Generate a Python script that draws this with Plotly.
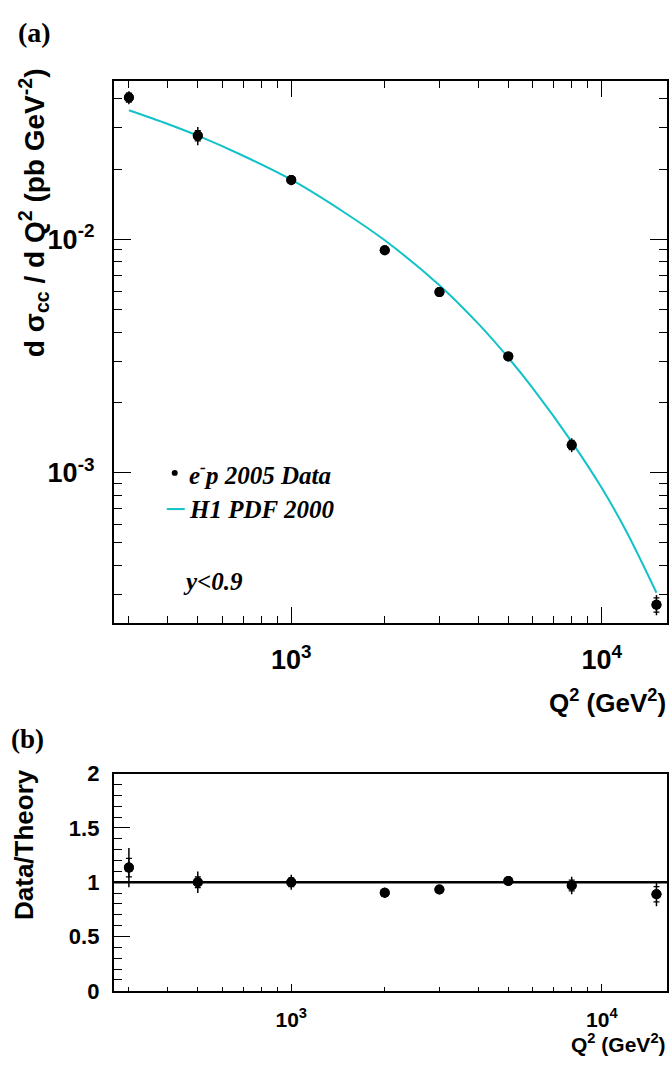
import plotly.graph_objects as go

# ---------------- data ----------------
q2 = [300, 500, 1000, 2000, 3000, 5000, 8000, 15000]
xsec = [0.0405, 0.0278, 0.01795, 0.00897, 0.00594, 0.00315, 0.001315, 0.000272]
xsec_err_tot = [0.0026, 0.0025, 0.0009, 0.0003, 0.0002, 0.00011, 0.00009, 0.000027]
xsec_err_stat = [0.0018, 0.0014, 0.0006, 0.0002, 0.00015, 0.00008, 0.00006, 0.000019]

theory_q2 = [300, 400, 500, 700, 1000, 1500, 2000, 3000, 4000, 5000, 6000, 8000, 10000, 12000, 15000]
theory_xsec = [0.0357, 0.0312, 0.0278, 0.0228, 0.0180, 0.0129, 0.0099, 0.00636, 0.00435,
               0.00311, 0.00230, 0.001356, 0.00086, 0.00056, 0.000306]

ratio = [1.135, 1.00, 1.00, 0.904, 0.934, 1.012, 0.97, 0.889]
ratio_err_tot = [0.18, 0.10, 0.07, 0.045, 0.04, 0.045, 0.08, 0.11]
ratio_err_stat = [0.085, 0.05, 0.04, 0.03, 0.025, 0.03, 0.05, 0.07]

x_major = [1000, 10000]
x_major_text = ["10<sup>3</sup>", "10<sup>4</sup>"]
x_minor = [300, 400, 500, 600, 700, 800, 900, 2000, 3000, 4000, 5000, 6000, 7000, 8000, 9000]
y_major = [1e-3, 1e-2]
y_major_text = ["10<sup>-3</sup>", "10<sup>-2</sup>"]
y_minor = [3e-4, 4e-4, 5e-4, 6e-4, 7e-4, 8e-4, 9e-4, 2e-3, 3e-3, 4e-3, 5e-3, 6e-3, 7e-3,
           8e-3, 9e-3, 2e-2, 3e-2, 4e-2]

# ---------------- geometry helpers ----------------
W, H = 669, 1066
def px(x):
    return x / W
def py(y):
    return 1 - y / H

SANS = "Liberation Sans"
SERIF = "Liberation Serif"
CYAN = "#12C2C8"

fig = go.Figure()

# theory curve
fig.add_trace(go.Scatter(x=theory_q2, y=theory_xsec, mode="lines", line=dict(color=CYAN, width=2,
                         shape="spline"), xaxis="x", yaxis="y", showlegend=False, hoverinfo="skip"))
# data: total errors
fig.add_trace(go.Scatter(x=q2, y=xsec, mode="markers", marker=dict(color="black", size=10),
                         error_y=dict(type="data", array=xsec_err_tot, color="black", thickness=1.5, width=0),
                         xaxis="x", yaxis="y", showlegend=False))
# data: stat errors (caps)
fig.add_trace(go.Scatter(x=q2, y=xsec, mode="markers", marker=dict(color="black", size=10),
                         error_y=dict(type="data", array=xsec_err_stat, color="black", thickness=1.2, width=3),
                         xaxis="x", yaxis="y", showlegend=False))

# ratio panel
fig.add_trace(go.Scatter(x=q2, y=ratio, mode="markers", marker=dict(color="black", size=10),
                         error_y=dict(type="data", array=ratio_err_tot, color="black", thickness=1.5, width=0),
                         xaxis="x2", yaxis="y2", showlegend=False))
fig.add_trace(go.Scatter(x=q2, y=ratio, mode="markers", marker=dict(color="black", size=10),
                         error_y=dict(type="data", array=ratio_err_stat, color="black", thickness=1.2, width=3),
                         xaxis="x2", yaxis="y2", showlegend=False))

xdom = [px(114), px(668)]
top_dom = [py(625.7), py(70.7)]
bot_dom = [py(1002.3), py(780)]
xrange_log = [2.4286, 4.21]

axis_common = dict(showline=True, linecolor="black", linewidth=2, showgrid=False, zeroline=False,
                   ticks="inside", tickcolor="black", tickwidth=1.2)

fig.update_layout(
    width=W, height=H, autosize=False,
    margin=dict(l=0, r=0, t=0, b=0),
    paper_bgcolor="white", plot_bgcolor="white",
    xaxis=dict(axis_common, domain=xdom, type="log", range=xrange_log, anchor="y",
               mirror="allticks", ticklen=16, tickvals=x_major, ticktext=x_major_text,
               tickfont=dict(family=SANS, size=27, color="black", weight="bold"),
               ticklabelstandoff=12,
               minor=dict(ticks="inside", ticklen=7, tickcolor="black", tickwidth=1, tickvals=x_minor)),
    yaxis=dict(axis_common, domain=top_dom, type="log", range=[-3.644, -1.322], anchor="x",
               mirror="allticks", ticklen=17, tickvals=y_major, ticktext=y_major_text,
               tickfont=dict(family=SANS, size=27, color="black", weight="bold"),
               ticklabelstandoff=12,
               minor=dict(ticks="inside", ticklen=8, tickcolor="black", tickwidth=1, tickvals=y_minor)),
    xaxis2=dict(axis_common, domain=xdom, type="log", range=xrange_log, anchor="y2",
                mirror=True, ticklen=7, tickvals=x_major, ticktext=x_major_text,
                tickfont=dict(family=SANS, size=21, color="black", weight="bold"),
                ticklabelstandoff=9,
                minor=dict(ticks="inside", ticklen=4, tickcolor="black", tickwidth=1, tickvals=x_minor)),
    yaxis2=dict(axis_common, domain=bot_dom, range=[0, 2], anchor="x2",
                mirror=True, ticklen=16, tickvals=[0, 0.5, 1, 1.5, 2],
                ticktext=["0", "0.5", "1", "1.5", "2"],
                tickfont=dict(family=SANS, size=22, color="black", weight="bold"),
                ticklabelstandoff=8,
                minor=dict(ticks="inside", ticklen=8, tickcolor="black", tickwidth=1, dtick=0.1)),
)

# line at ratio = 1
fig.add_shape(type="line", xref="x2 domain", yref="y2", x0=0, x1=1, y0=1, y1=1,
              line=dict(color="black", width=2.5))

# legend graphics
fig.add_shape(type="circle", xref="paper", yref="paper",
              x0=px(172), x1=px(178), y0=py(475), y1=py(469),
              fillcolor="black", line=dict(color="black", width=0))
fig.add_shape(type="line", xref="paper", yref="paper",
              x0=px(167), x1=px(185), y0=py(509), y1=py(509), line=dict(color=CYAN, width=2))

def ann(text, x, y, size, family=SANS, xanchor="left", yanchor="middle", angle=0,
        weight="bold", style="normal"):
    fig.add_annotation(text=text, x=px(x), y=py(y), xref="paper", yref="paper",
                       xanchor=xanchor, yanchor=yanchor, showarrow=False, textangle=angle,
                       font=dict(family=family, size=size, color="black", weight=weight, style=style))

ann("(a)", 16, 3, 28, family=SERIF, yanchor="top")
ann("(b)", 9, 744, 27, family=SERIF)
ann("e<sup>-</sup>p 2005 Data", 187, 472, 25, family=SERIF, style="italic")
ann("H1 PDF 2000", 187, 509, 25, family=SERIF, style="italic")
ann("y&lt;0.9", 181, 583, 25, family=SERIF, style="italic")
ann("Q<sup>2</sup> (GeV<sup>2</sup>)", 669, 706, 26, xanchor="right")
ann("Q<sup>2</sup> (GeV<sup>2</sup>)", 669, 1071, 21, xanchor="right", yanchor="bottom")
ann("d \u03c3<sub>cc</sub> / d Q<sup>2</sup> (pb GeV<sup>-2</sup>)", 34, 205, 28, xanchor="center",
    angle=-90)
ann("Data/Theory", 24, 852, 26, xanchor="center", angle=-90)

fig.write_html("out.html", config={"displayModeBar": False},
               post_script="document.body.style.margin='0';document.body.style.overflow='hidden';")
